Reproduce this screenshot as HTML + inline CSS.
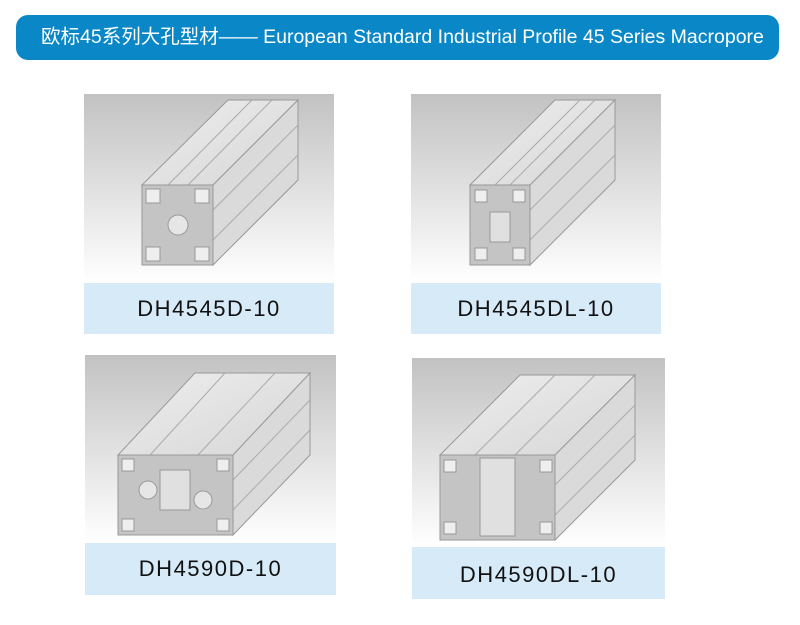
<!DOCTYPE html>
<html><head><meta charset="utf-8"><style>
body{margin:0;width:800px;height:625px;background:#fff;position:relative;overflow:hidden;font-family:"Liberation Sans","Noto Sans CJK SC",sans-serif}
.hdr{position:absolute;left:16px;top:15px;width:763px;height:45px;background:#0a87c6;border-radius:12px;color:#fff;font-size:19.5px;line-height:45px;box-sizing:border-box;padding-left:25px;white-space:nowrap}
.img{position:absolute;background:linear-gradient(#c2c2c2,#fff)}
.lab{position:absolute;background:#d6eaf8;color:#111;font-size:22px;text-align:center;letter-spacing:1.5px}
svg{position:absolute;left:0;top:0}
</style></head><body>
<div class="hdr">欧标45系列大孔型材—— European Standard Industrial Profile 45 Series Macropore</div>

<div class="img" style="left:84px;top:94px;width:250px;height:189px"></div>
<div class="lab" style="left:84px;top:283px;width:250px;height:51px;line-height:51px">DH4545D-10</div>

<div class="img" style="left:411px;top:94px;width:250px;height:189px"></div>
<div class="lab" style="left:411px;top:283px;width:250px;height:51px;line-height:51px">DH4545DL-10</div>

<div class="img" style="left:85px;top:355px;width:251px;height:188px"></div>
<div class="lab" style="left:85px;top:543px;width:251px;height:52px;line-height:52px">DH4590D-10</div>

<div class="img" style="left:412px;top:358px;width:253px;height:189px"></div>
<div class="lab" style="left:412px;top:547px;width:253px;height:52px;line-height:56px">DH4590DL-10</div>

<svg width="800" height="625" viewBox="0 0 800 625">
<defs>
<linearGradient id="g" x1="0" y1="0" x2="1" y2="1"><stop offset="0" stop-color="#eeeeee"/><stop offset="1" stop-color="#d6d6d6"/></linearGradient>
</defs>
<g stroke="#999" stroke-width="1">
<polygon points="142,185 228,100 298,100 213,185" fill="url(#g)"/>
<polygon points="213,185 298,100 298,180 213,265" fill="#dadada"/>
<path d="M168,185 L252,100 M188,185 L272,100 M213,210 L298,125 M213,240 L298,155" stroke="#aaa" fill="none"/>
<rect x="142" y="185" width="71" height="80" fill="#c4c4c4"/>
<circle cx="178" cy="225" r="10" fill="#e6e6e6"/>
<rect x="146" y="189" width="14" height="14" fill="#eee"/><rect x="195" y="189" width="14" height="14" fill="#eee"/>
<rect x="146" y="247" width="14" height="14" fill="#eee"/><rect x="195" y="247" width="14" height="14" fill="#eee"/>
</g>
<g stroke="#999" stroke-width="1">
<polygon points="470,185 555,100 615,100 530,185" fill="url(#g)"/>
<polygon points="530,185 615,100 615,180 530,265" fill="#dadada"/>
<path d="M495,185 L580,100 M510,185 L595,100 M530,210 L615,125 M530,240 L615,155" stroke="#aaa" fill="none"/>
<rect x="470" y="185" width="60" height="80" fill="#c4c4c4"/>
<rect x="475" y="190" width="12" height="12" fill="#eee"/><rect x="513" y="190" width="12" height="12" fill="#eee"/>
<rect x="475" y="248" width="12" height="12" fill="#eee"/><rect x="513" y="248" width="12" height="12" fill="#eee"/>
<rect x="490" y="212" width="20" height="30" fill="#e0e0e0"/>
</g>
<g stroke="#999" stroke-width="1">
<polygon points="118,455 195,373 310,373 233,455" fill="url(#g)"/>
<polygon points="233,455 310,373 310,455 233,535" fill="#dadada"/>
<path d="M150,455 L225,373 M198,455 L275,373 M233,480 L310,400 M233,510 L310,430" stroke="#aaa" fill="none"/>
<rect x="118" y="455" width="115" height="80" fill="#c4c4c4"/>
<circle cx="148" cy="490" r="9" fill="#e6e6e6"/><circle cx="203" cy="500" r="9" fill="#e6e6e6"/>
<rect x="160" y="470" width="30" height="40" fill="#e0e0e0"/>
<rect x="122" y="459" width="12" height="12" fill="#eee"/><rect x="217" y="459" width="12" height="12" fill="#eee"/>
<rect x="122" y="519" width="12" height="12" fill="#eee"/><rect x="217" y="519" width="12" height="12" fill="#eee"/>
</g>
<g stroke="#999" stroke-width="1">
<polygon points="440,455 520,375 635,375 555,455" fill="url(#g)"/>
<polygon points="555,455 635,375 635,460 555,540" fill="#dadada"/>
<path d="M475,455 L555,375 M515,455 L595,375 M555,485 L635,405 M555,515 L635,435" stroke="#aaa" fill="none"/>
<rect x="440" y="455" width="115" height="85" fill="#c4c4c4"/>
<rect x="480" y="458" width="35" height="78" fill="#e0e0e0"/>
<rect x="444" y="460" width="12" height="12" fill="#eee"/><rect x="540" y="460" width="12" height="12" fill="#eee"/>
<rect x="444" y="522" width="12" height="12" fill="#eee"/><rect x="540" y="522" width="12" height="12" fill="#eee"/>
</g>
</svg>
</body></html>
